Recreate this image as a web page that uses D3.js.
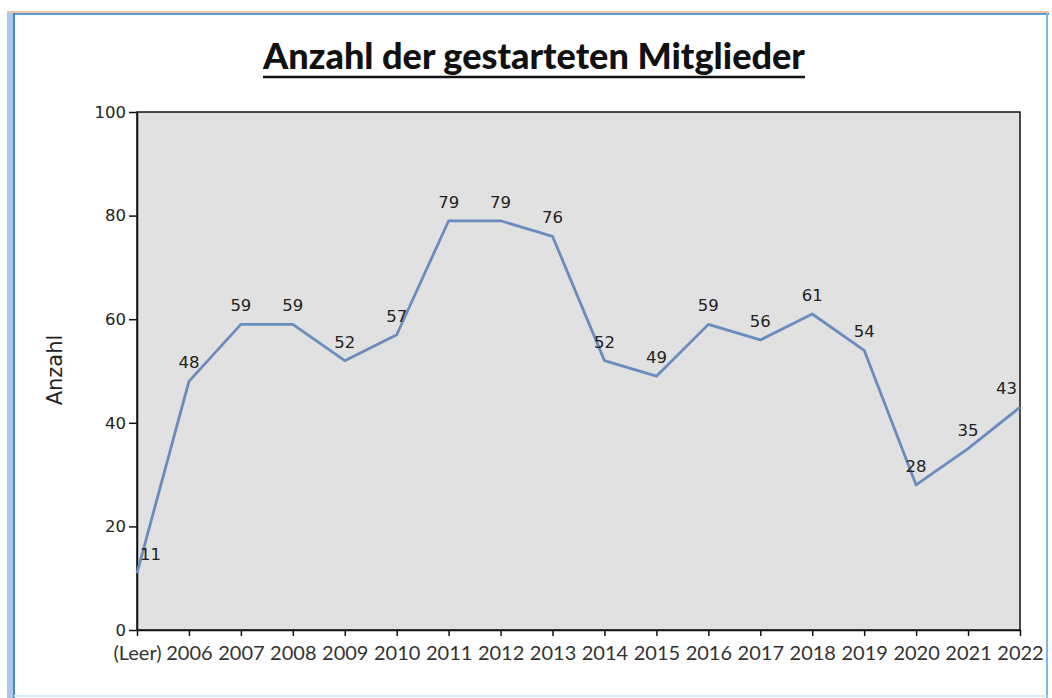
<!DOCTYPE html>
<html>
<head>
<meta charset="utf-8">
<script src="https://cdn.jsdelivr.net/npm/d3@7"></script>
<style>
  body { margin: 0; background: #fff; }
  svg { display: block; }
</style>
</head>
<body>
<div id="chart"></div>
<script>
const categories = ['(Leer)', '2006', '2007', '2008', '2009', '2010', '2011', '2012', '2013',
  '2014', '2015', '2016', '2017', '2018', '2019', '2020', '2021', '2022'];
const values = [11, 48, 59, 59, 52, 57, 79, 79, 76, 52, 49, 59, 56, 61, 54, 28, 35, 43];
const yTicks = [0, 20, 40, 60, 80, 100];
const title = 'Anzahl der gestarteten Mitglieder';
const yTitle = 'Anzahl';

const W = 1052, H = 698;
const plot = { left: 137, right: 1020, top: 112, bottom: 630 };

const svg = d3.select('#chart').append('svg')
  .attr('width', W)
  .attr('height', H);

// window frame
svg.append('rect').attr('x', 0).attr('y', 0).attr('width', W).attr('height', H).attr('fill', '#fff');
svg.append('line').attr('x1', 7).attr('x2', 1049).attr('y1', 12).attr('y2', 12)
  .attr('stroke', '#f0c4a4').attr('stroke-width', 2);
svg.append('line').attr('x1', 7).attr('x2', 1049).attr('y1', 14).attr('y2', 14)
  .attr('stroke', '#5b9bd5').attr('stroke-width', 2);
svg.append('rect').attr('x', 7).attr('y', 13).attr('width', 6).attr('height', H - 13)
  .attr('fill', '#a9c8ec');
svg.append('line').attr('x1', 14).attr('x2', 14).attr('y1', 13).attr('y2', H)
  .attr('stroke', '#4a86c8').attr('stroke-width', 2);
svg.append('line').attr('x1', 1047).attr('x2', 1047).attr('y1', 13).attr('y2', H)
  .attr('stroke', '#7fb6e6').attr('stroke-width', 2);
svg.append('line').attr('x1', 14).attr('x2', 1047).attr('y1', 696).attr('y2', 696)
  .attr('stroke', '#cdeff5').attr('stroke-width', 2);

const x = d3.scalePoint()
  .domain(categories)
  .range([plot.left, plot.right]);

const y = d3.scaleLinear()
  .domain([0, 100])
  .range([plot.bottom, plot.top]);

// plot area
svg.append('rect')
  .attr('x', plot.left)
  .attr('y', plot.top)
  .attr('width', plot.right - plot.left)
  .attr('height', plot.bottom - plot.top)
  .attr('fill', '#e1e1e1')
  .attr('stroke', '#111')
  .attr('stroke-width', 1.5);

// title
const t = svg.append('text')
  .attr('x', 534)
  .attr('y', 69)
  .attr('text-anchor', 'middle')
  .style('font-family', 'Lato, sans-serif')
  .style('font-weight', '900')
  .style('font-size', '32px')
  .attr('fill', '#111')
  .text(title);
const tw = t.node().getComputedTextLength();
t.style('font-size', (32 * 542 / tw) + 'px');
const tw2 = t.node().getComputedTextLength();
svg.append('line')
  .attr('x1', 534 - tw2 / 2).attr('x2', 534 + tw2 / 2)
  .attr('y1', 77).attr('y2', 77)
  .attr('stroke', '#111').attr('stroke-width', 2.5);

// axes
const yAxis = d3.axisLeft(y).tickValues(yTicks).tickSize(8).tickSizeOuter(0).tickPadding(3);
const gy = svg.append('g')
  .attr('transform', 'translate(' + plot.left + ',0)')
  .call(yAxis);
gy.select('.domain').attr('stroke', '#111').attr('stroke-width', 1.5);
gy.selectAll('.tick line').attr('stroke', '#111').attr('stroke-width', 1.5);
gy.selectAll('text')
  .style('font-family', 'DejaVu Sans, sans-serif')
  .style('font-size', '16.5px')
  .attr('fill', '#222');

const xAxis = d3.axisBottom(x).tickSize(6).tickSizeOuter(0).tickPadding(10);
const gx = svg.append('g')
  .attr('transform', 'translate(0,' + plot.bottom + ')')
  .call(xAxis);
gx.select('.domain').attr('stroke', '#111').attr('stroke-width', 1.5);
gx.selectAll('.tick line').attr('stroke', '#111').attr('stroke-width', 1.5);
gx.selectAll('text')
  .style('font-family', 'Lato, sans-serif')
  .style('font-size', '20px')
  .attr('fill', '#333');

// y axis title
svg.append('text')
  .attr('transform', 'translate(62,370) rotate(-90)')
  .attr('text-anchor', 'middle')
  .style('font-family', 'DejaVu Sans, sans-serif')
  .style('font-size', '21px')
  .attr('fill', '#222')
  .text(yTitle);

// line
const data = categories.map((c, i) => ({ cat: c, val: values[i] }));
const line = d3.line()
  .x(d => x(d.cat))
  .y(d => y(d.val));

svg.append('path')
  .datum(data)
  .attr('d', line)
  .attr('fill', 'none')
  .attr('stroke', '#6b8cbe')
  .attr('stroke-width', 2.8)
  .attr('stroke-linejoin', 'round');

// data labels
svg.selectAll('.lbl')
  .data(data)
  .enter()
  .append('text')
  .attr('class', 'lbl')
  .attr('y', d => y(d.val) - 13)
  .attr('text-anchor', 'middle')
  .style('font-family', 'DejaVu Sans, sans-serif')
  .style('font-size', '16.5px')
  .attr('fill', '#222')
  .text(d => d.val)
  .each(function (d) {
    const w = this.getComputedTextLength();
    let cx = x(d.cat);
    cx = Math.max(plot.left + 3 + w / 2, Math.min(plot.right - 3 - w / 2, cx));
    d3.select(this).attr('x', cx);
  });
</script>
</body>
</html>
